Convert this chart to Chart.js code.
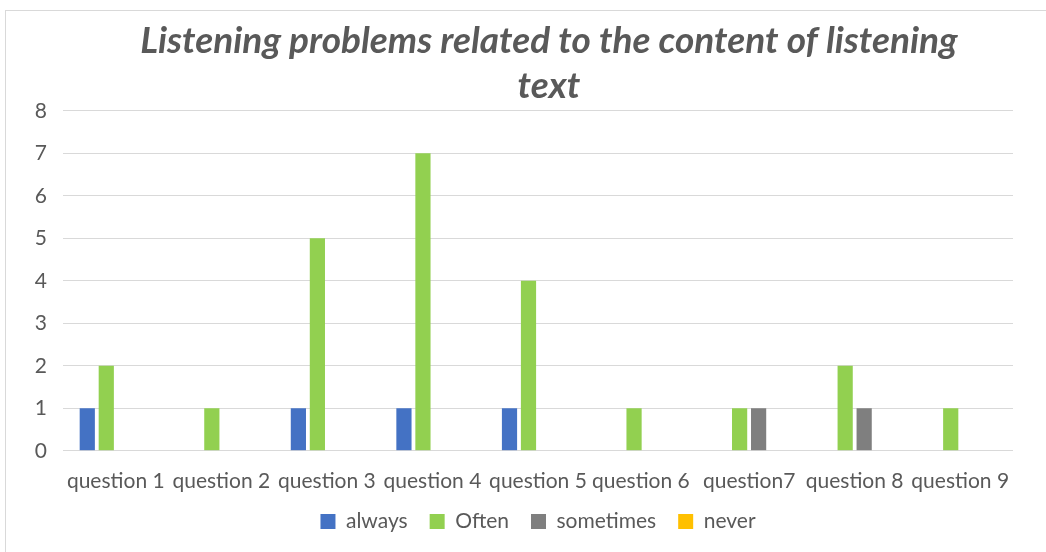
<!DOCTYPE html>
<html>
<head>
<meta charset="utf-8">
<script src="https://cdn.jsdelivr.net/npm/chart.js@4/dist/chart.umd.min.js"></script>
<style>
  html, body { margin: 0; padding: 0; background: #fff; }
  #frame { position: absolute; left: 5px; top: 10px; width: 1045px; height: 545px; border: 1px solid #d9d9d9; box-sizing: border-box; }
  #wrap { position: absolute; left: 1px; top: 1px; width: 1040px; height: 541px; }
</style>
</head>
<body>
<div id="frame"><div id="wrap"><canvas id="c" width="1040" height="541"></canvas></div></div>
<script>
const categories = ["question 1", "question 2", "question 3", "question 4", "question 5", "question 6 ", "question7", "question 8", "question 9"];
const always = [1, 0, 1, 1, 1, 0, 0, 0, 0];
const often = [2, 1, 5, 7, 4, 1, 1, 2, 1];
const sometimes = [0, 0, 0, 0, 0, 0, 1, 1, 0];
const never = [0, 0, 0, 0, 0, 0, 0, 0, 0];
const yTicks = [0, 1, 2, 3, 4, 5, 6, 7, 8];

const FONT = "Lato, 'Open Sans', sans-serif";
const TXT = "#595959";

const adjustBlocks = {
  id: 'adjustBlocks',
  afterLayout(chart) {
    if (chart.titleBlock) { chart.titleBlock.left += 22; }
    if (chart.legend) { chart.legend.top -= 15; chart.legend.bottom -= 15; }
  }
};

new Chart(document.getElementById('c'), {
  type: 'bar',
  data: {
    labels: categories,
    datasets: [
      { label: 'always', data: always, backgroundColor: '#4472c4' },
      { label: 'Often', data: often, backgroundColor: '#92d050' },
      { label: 'sometimes', data: sometimes, backgroundColor: '#7f7f7f' },
      { label: 'never', data: never, backgroundColor: '#ffc000' }
    ]
  },
  plugins: [adjustBlocks],
  options: {
    responsive: false,
    animation: false,
    maintainAspectRatio: false,
    layout: { padding: { left: 0, right: 34, top: 0, bottom: -4 } },
    datasets: { bar: { categoryPercentage: 0.72, barPercentage: 0.8 } },
    plugins: {
      title: {
        display: true,
        fullSize: false,
        text: ['Listening problems related to the content of listening', 'text'],
        color: TXT,
        font: { family: FONT, size: 37, weight: 'bold', style: 'italic', lineHeight: 1.2 },
        padding: { top: 7, bottom: 3 }
      },
      legend: {
        position: 'bottom',
        fullSize: false,
        labels: {
          color: TXT,
          font: { family: FONT, size: 21 },
          boxWidth: 15, boxHeight: 15,
          padding: 22
        }
      },
      tooltip: { enabled: false }
    },
    scales: {
      x: {
        grid: { display: false },
        border: { display: false },
        ticks: { color: TXT, font: { family: FONT, size: 21 }, maxRotation: 0, autoSkip: false, padding: 10 }
      },
      y: {
        min: 0, max: 8,
        afterBuildTicks: (s) => { s.ticks = yTicks.map(v => ({ value: v })); },
        afterFit: (s) => { s.width = 56; },
        grid: { color: '#d9d9d9', lineWidth: 1, drawTicks: false },
        border: { display: false },
        ticks: { color: TXT, font: { family: FONT, size: 21 }, padding: 16 }
      }
    }
  }
});
</script>
</body>
</html>
